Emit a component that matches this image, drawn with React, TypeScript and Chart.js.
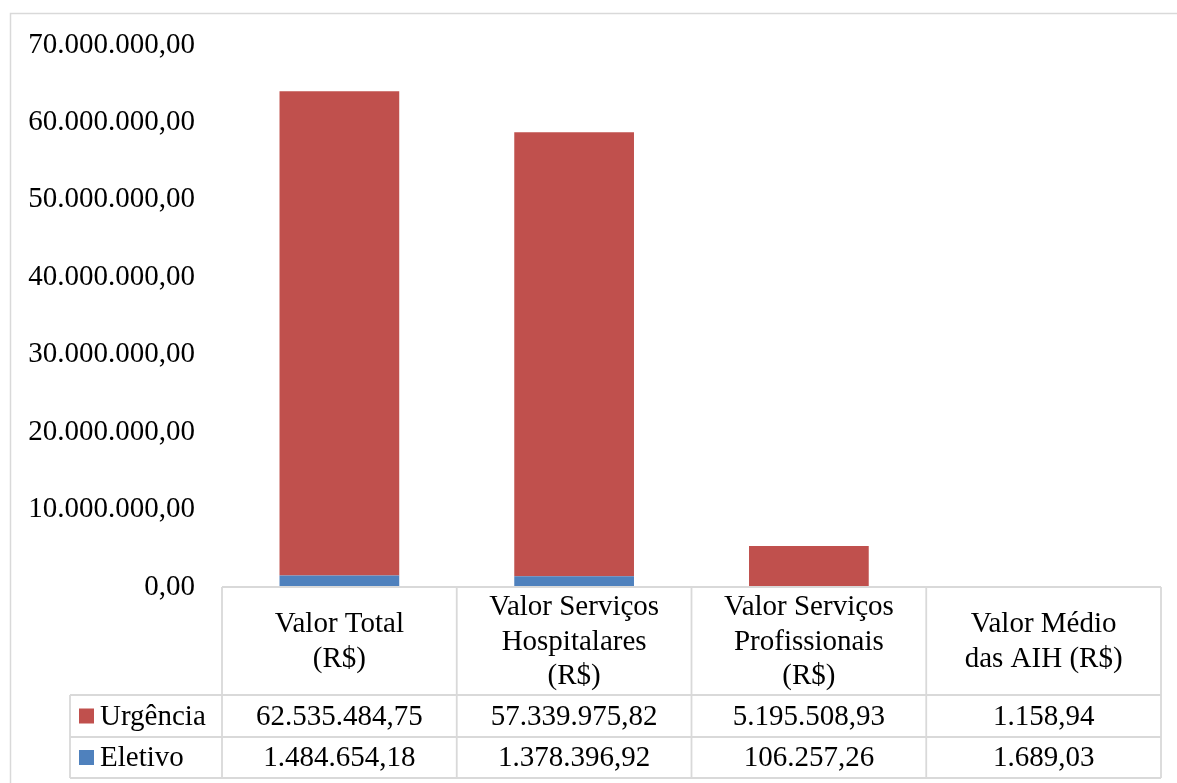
import React, { useEffect, useRef } from "react";
import { Chart, registerables } from "chart.js";

Chart.register(...registerables);

const categories: string[][] = [
  ["Valor Total", "(R$)"],
  ["Valor Serviços", "Hospitalares", "(R$)"],
  ["Valor Serviços", "Profissionais", "(R$)"],
  ["Valor Médio", "das AIH (R$)"],
];
const seriesNames = ["Urgência", "Eletivo"];
const urgencia = [62535484.75, 57339975.82, 5195508.93, 1158.94];
const eletivo = [1484654.18, 1378396.92, 106257.26, 1689.03];
const yTicks = { min: 0, max: 70000000, step: 10000000 };

const RED = "#C0504D";
const BLUE = "#4F81BD";
const LINE = "#D9D9D9";
const FONT = "'Liberation Serif', 'Times New Roman', serif";

function fmt(v: number): string {
  const neg = v < 0;
  const fixed = Math.abs(v).toFixed(2);
  const [ip, dp] = fixed.split(".");
  const withDots = ip.replace(/\B(?=(\d{3})+(?!\d))/g, ".");
  return (neg ? "-" : "") + withDots + "," + dp;
}

const tablePlugin = {
  id: "dataTable",
  beforeDraw(chart: any) {
    const ctx = chart.ctx;
    ctx.save();
    ctx.fillStyle = "#ffffff";
    ctx.fillRect(0, 0, chart.width, chart.height);
    ctx.strokeStyle = LINE;
    ctx.lineWidth = 1.5;
    ctx.strokeRect(10.5, 13.5, chart.width + 20, chart.height + 20);
    ctx.restore();
  },
  afterDraw(chart: any) {
    const ctx = chart.ctx;
    const xs = chart.scales.x;
    const area = chart.chartArea;
    const n = categories.length;
    const colW = (area.right - area.left) / n;
    const top = area.bottom;
    const hdrBottom = top + 108;
    const r1Bottom = hdrBottom + 42;
    const r2Bottom = r1Bottom + 41;
    const legendLeft = 70;

    ctx.save();
    ctx.strokeStyle = LINE;
    ctx.lineWidth = 1.8;
    ctx.beginPath();
    ctx.moveTo(area.left, top);
    ctx.lineTo(area.right, top);
    [hdrBottom, r1Bottom, r2Bottom].forEach((y) => {
      ctx.moveTo(legendLeft, y);
      ctx.lineTo(area.right, y);
    });
    for (let i = 0; i <= n; i++) {
      const x = area.left + i * colW;
      ctx.moveTo(x, top);
      ctx.lineTo(x, r2Bottom);
    }
    ctx.moveTo(legendLeft, hdrBottom);
    ctx.lineTo(legendLeft, r2Bottom);
    ctx.stroke();

    ctx.fillStyle = "#000";
    ctx.textAlign = "center";
    ctx.textBaseline = "middle";
    ctx.font = `29px ${FONT}`;
    const hdrMid = (top + hdrBottom) / 2;
    const lh = 34.5;
    categories.forEach((lines, i) => {
      const cx = xs.getPixelForValue(i);
      const start = hdrMid - ((lines.length - 1) * lh) / 2;
      lines.forEach((t, j) => ctx.fillText(t, cx, start + j * lh + 1));
    });
    const rows = [
      { name: seriesNames[0], color: RED, data: urgencia, y: (hdrBottom + r1Bottom) / 2 },
      { name: seriesNames[1], color: BLUE, data: eletivo, y: (r1Bottom + r2Bottom) / 2 },
    ];
    rows.forEach((r) => {
      ctx.textAlign = "center";
      r.data.forEach((v, i) => {
        ctx.fillText(fmt(v), xs.getPixelForValue(i), r.y + 1);
      });
      ctx.fillStyle = r.color;
      ctx.fillRect(79, r.y - 7.5, 15, 15);
      ctx.fillStyle = "#000";
      ctx.textAlign = "left";
      ctx.fillText(r.name, 100, r.y + 1);
    });
    ctx.restore();
  },
};

export default function App() {
  const ref = useRef<HTMLCanvasElement | null>(null);
  useEffect(() => {
    if (!ref.current) return;
    const chart = new Chart(ref.current, {
      type: "bar",
      data: {
        labels: categories.map((c) => c.join(" ")),
        datasets: [
          { label: seriesNames[1], data: eletivo, backgroundColor: BLUE, borderWidth: 0 },
          { label: seriesNames[0], data: urgencia, backgroundColor: RED, borderWidth: 0 },
        ],
      },
      options: {
        responsive: false,
        animation: false,
        devicePixelRatio: 1,
        layout: { padding: { left: 12, right: 16, top: 45, bottom: 196 } },
        datasets: { bar: { barPercentage: 0.51, categoryPercentage: 1 } },
        plugins: { legend: { display: false }, tooltip: { enabled: false } },
        scales: {
          x: { display: false, stacked: true },
          y: {
            stacked: true,
            min: yTicks.min,
            max: yTicks.max,
            grid: { display: false, drawTicks: false },
            border: { display: false },
            ticks: {
              stepSize: yTicks.step,
              padding: 27,
              color: "#000",
              font: { family: FONT, size: 29 },
              callback: (v: any) => fmt(Number(v)),
            },
            afterFit: (s: any) => {
              s.width = 210;
            },
          },
        },
      },
      plugins: [tablePlugin],
    });
    return () => chart.destroy();
  }, []);
  return (
    <div style={{ position: "fixed", left: 0, top: 0, width: 1177, height: 783, background: "#fff" }}>
      <canvas ref={ref} width={1177} height={783} style={{ width: 1177, height: 783, display: "block" }} />
    </div>
  );
}
